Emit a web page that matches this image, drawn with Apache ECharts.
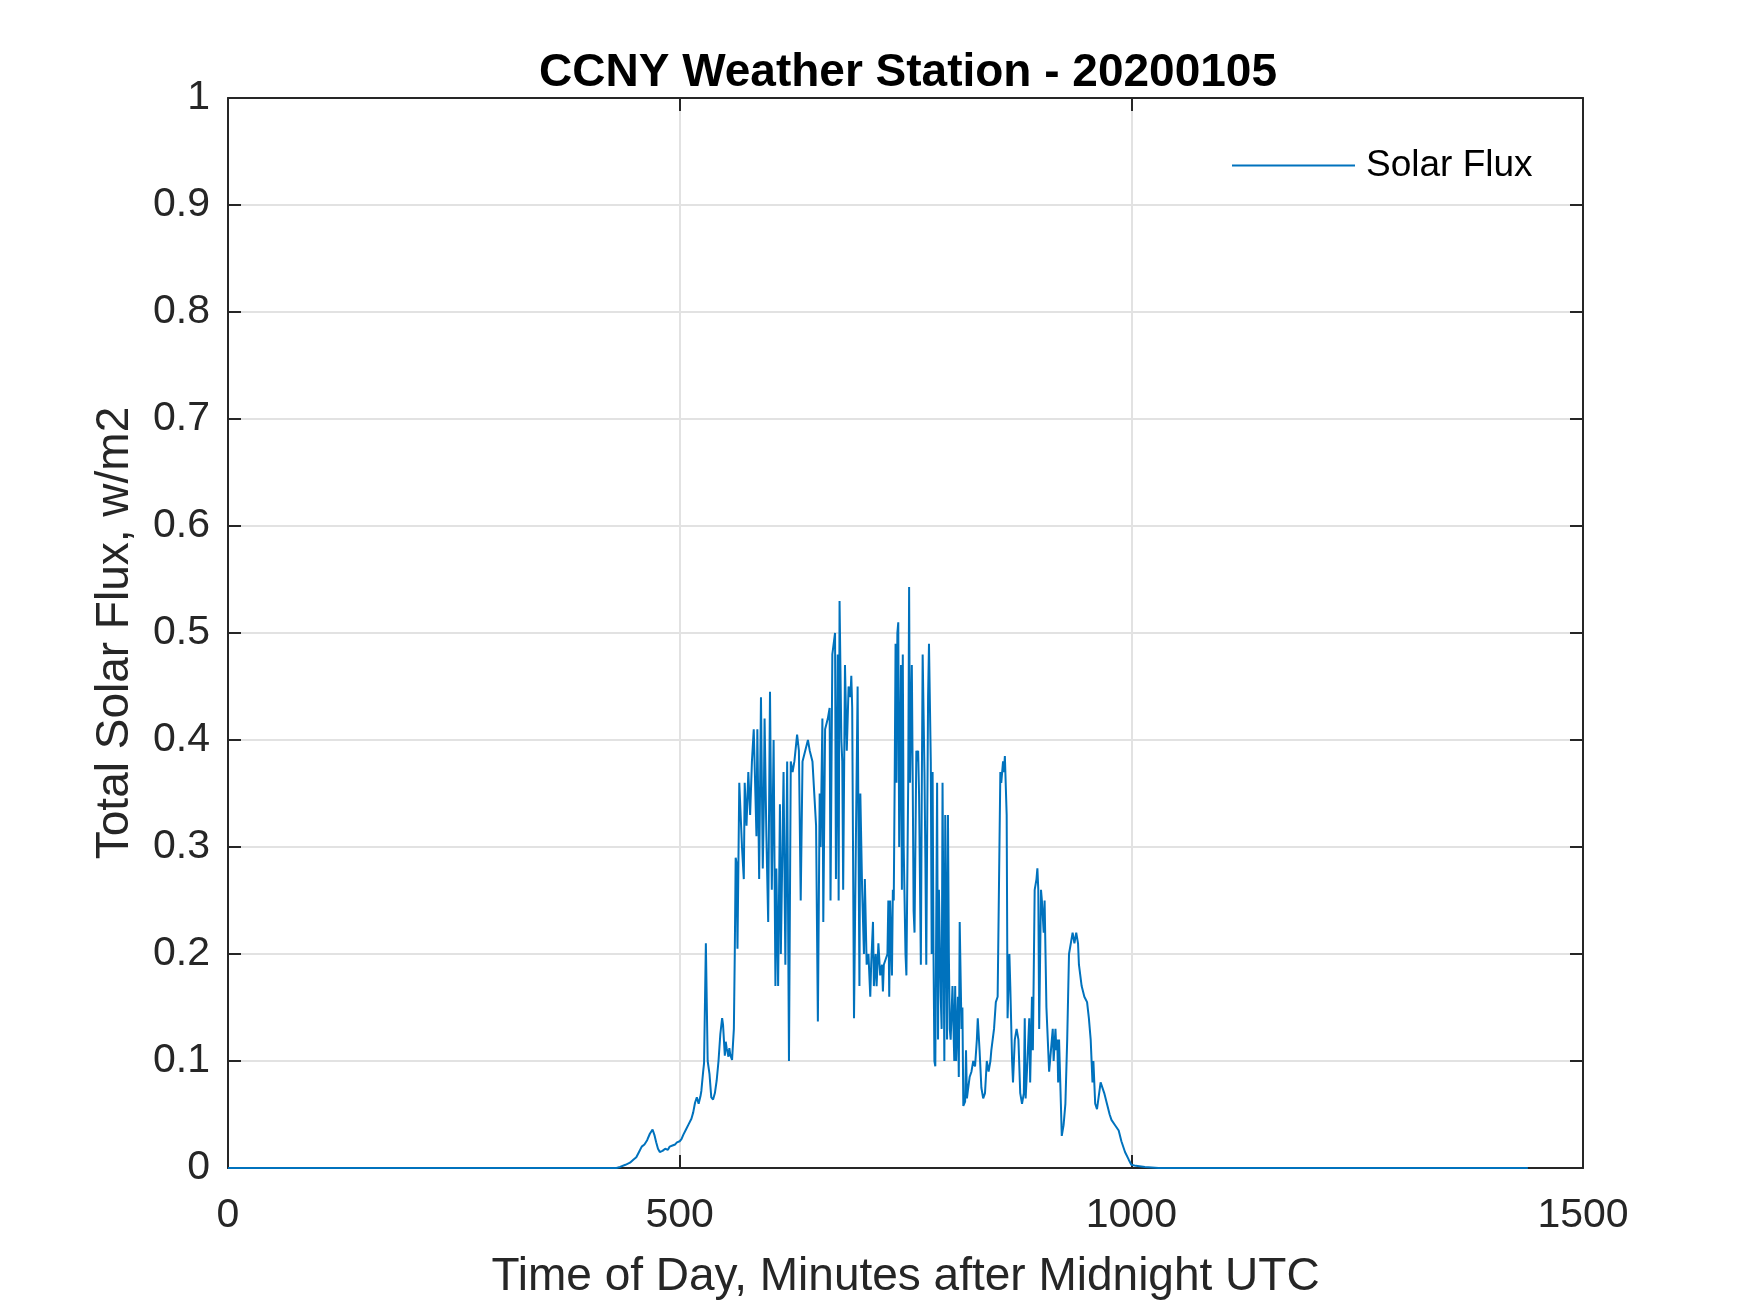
<!DOCTYPE html>
<html>
<head>
<meta charset="utf-8">
<script src="https://cdn.jsdelivr.net/npm/echarts@6/dist/echarts.min.js"></script>
<style>
html,body{margin:0;padding:0;background:#fff;}
#chart{width:1750px;height:1313px;}
</style>
</head>
<body>
<div id="chart"></div>
<script>
const titleText = 'CCNY Weather Station - 20200105';
const seriesName = 'Solar Flux';
const xLabel = 'Time of Day, Minutes after Midnight UTC';
const yLabel = 'Total Solar Flux, w/m2';
const xTicks = [0, 500, 1000, 1500];
const yTicks = [0, 0.1, 0.2, 0.3, 0.4, 0.5, 0.6, 0.7, 0.8, 0.9, 1];

const minutes = [
0,430,434,440,445,449,452,455,458,461,464,467,470,472,474,476,478,481,484,487,489,492,495,497,500,
502,504,507,510,513,515,517,519,521,523,524,526,527,529,531,533,535,537,539,541,543,545,547,548,550,
551,552,554,555,556,558,560,561,562,563,564,566,568,569,571,572,574,576,578,580,582,585,586,588,590,
592,593,594,596,598,600,602,604,606,607,609,611,612,615,617,619,621,623,625,627,630,632,634,636,639,
642,644,647,649,651,653,655,656,658,659,661,664,666,667,669,670,672,673,675,676,677,679,680,681,683,
685,687,689,690,691,693,695,697,699,700,702,704,705,707,709,711,712,714,715,717,718,720,722,724,725,
726,728,730,731,732,733,735,736,737,738,739,740,741,742,743,745,746,747,748,750,751,753,754,755,757,
758,759,760,762,763,764,765,767,768,769,771,772,773,775,776,778,779,780,781,782,783,785,786,787,789,
790,791,793,794,796,797,798,799,800,802,804,805,806,808,809,810,812,813,814,816,817,818,819,821,823,
825,827,829,830,832,834,836,838,840,842,844,845,848,850,852,854,855,856,858,859,860,862,863,865,866,
868,869,871,873,875,877,879,881,882,883,885,887,888,890,891,893,895,896,897,898,900,901,903,904,905,
906,907,909,911,913,914,916,917,918,919,920,922,923,925,927,929,930,931,933,935,937,939,941,942,945,
948,951,953,955,957,958,960,962,964,966,968,970,973,976,978,982,986,989,993,997,1000,1005,1015,1030,1439
];
const flux = [
0,0,0.001,0.003,0.005,0.008,0.01,0.015,0.02,0.022,0.026,0.032,0.036,0.031,0.024,0.018,0.015,0.016,0.018,0.017,0.02,0.021,0.022,0.024,0.025,
0.027,0.031,0.036,0.041,0.046,0.052,0.061,0.066,0.06,0.067,0.072,0.09,0.098,0.21,0.1,0.088,0.066,0.064,0.07,0.082,0.1,0.125,0.14,0.134,0.105,
0.118,0.112,0.104,0.112,0.106,0.101,0.13,0.2,0.29,0.285,0.205,0.36,0.36,0.3,0.27,0.36,0.32,0.37,0.33,0.38,0.41,0.31,0.41,0.27,0.44,
0.28,0.33,0.42,0.31,0.23,0.445,0.26,0.4,0.17,0.28,0.17,0.34,0.2,0.37,0.19,0.38,0.1,0.38,0.37,0.38,0.405,0.39,0.25,0.38,0.39,
0.4,0.39,0.38,0.38,0.32,0.137,0.35,0.3,0.42,0.23,0.41,0.42,0.43,0.25,0.48,0.48,0.5,0.27,0.48,0.25,0.53,0.4,0.38,0.26,0.47,
0.39,0.45,0.44,0.46,0.43,0.14,0.3,0.45,0.17,0.35,0.26,0.2,0.27,0.19,0.2,0.16,0.19,0.23,0.17,0.2,0.17,0.21,0.18,0.19,0.165,
0.19,0.19,0.2,0.25,0.16,0.25,0.18,0.26,0.25,0.36,0.49,0.36,0.5,0.51,0.3,0.47,0.26,0.48,0.3,0.2,0.18,0.36,0.543,0.36,0.47,
0.36,0.24,0.22,0.39,0.38,0.39,0.35,0.19,0.35,0.48,0.37,0.29,0.19,0.44,0.49,0.38,0.2,0.37,0.2,0.1,0.095,0.36,0.12,0.26,0.16,
0.13,0.36,0.1,0.33,0.12,0.33,0.2,0.13,0.12,0.17,0.1,0.17,0.1,0.16,0.085,0.23,0.13,0.15,0.058,0.062,0.11,0.065,0.072,0.085,0.09,
0.1,0.095,0.12,0.14,0.11,0.075,0.065,0.07,0.1,0.09,0.1,0.11,0.13,0.155,0.16,0.3,0.37,0.36,0.38,0.37,0.385,0.33,0.14,0.2,0.17,
0.1,0.08,0.12,0.13,0.12,0.07,0.06,0.07,0.14,0.065,0.1,0.14,0.08,0.16,0.11,0.26,0.27,0.28,0.26,0.13,0.26,0.25,0.22,0.25,0.2,
0.15,0.13,0.09,0.11,0.13,0.1,0.13,0.11,0.12,0.08,0.12,0.06,0.03,0.04,0.06,0.12,0.16,0.2,0.21,0.22,0.21,0.22,0.21,0.19,0.17,
0.16,0.155,0.14,0.12,0.08,0.1,0.06,0.055,0.055,0.08,0.08,0.07,0.06,0.05,0.045,0.04,0.035,0.025,0.015,0.008,0.003,0.002,0.001,0,0
];

const points = minutes.map((m, i) => [m, flux[i]]);

const FONT = 'Liberation Sans, Arial, Helvetica, sans-serif';
const AX = '#262626';
const GRIDC = '#e2e2e2';
const xMin = xTicks[0], xMax = xTicks[xTicks.length - 1], xStep = xTicks[1] - xTicks[0];
const yMin = yTicks[0], yMax = yTicks[yTicks.length - 1], yStep = 0.1;

const chart = echarts.init(document.getElementById('chart'), null, {renderer: 'canvas'});
chart.setOption({
  animation: false,
  backgroundColor: '#ffffff',
  title: {
    text: titleText,
    left: 903, top: 45, textAlign: 'center',
    textStyle: {fontFamily: FONT, fontSize: 46, fontWeight: 'bold', color: '#000'}
  },
  legend: {
    data: [seriesName],
    left: 1227, top: 142,
    itemWidth: 123, itemHeight: 2, itemGap: 10,
    icon: 'rect',
    textStyle: {fontFamily: FONT, fontSize: 37, color: '#000', padding: [0, 0, 0, 6]}
  },
  grid: {left: 228, right: 167, top: 98, bottom: 145, containLabel: false},
  xAxis: [{
    type: 'value', min: xMin, max: xMax, interval: xStep,
    name: xLabel, nameLocation: 'middle', nameGap: 86,
    nameTextStyle: {fontFamily: FONT, fontSize: 46, color: AX},
    axisLine: {show: true, onZero: false, lineStyle: {color: AX, width: 2}},
    axisTick: {show: true, inside: true, length: 13, lineStyle: {color: AX, width: 2}},
    axisLabel: {fontFamily: FONT, fontSize: 41, color: AX, margin: 27,
      formatter: v => String(v)},
    splitLine: {show: true, lineStyle: {color: GRIDC, width: 2}}
  }, {
    type: 'value', position: 'top', min: xMin, max: xMax, interval: xStep,
    axisLine: {show: true, onZero: false, lineStyle: {color: AX, width: 2}},
    axisTick: {show: true, inside: true, length: 13, lineStyle: {color: AX, width: 2}},
    axisLabel: {show: false}, splitLine: {show: false}
  }],
  yAxis: [{
    type: 'value', min: yMin, max: yMax, interval: yStep,
    name: yLabel, nameLocation: 'middle', nameGap: 90,
    nameTextStyle: {fontFamily: FONT, fontSize: 46, color: AX},
    axisLine: {show: true, onZero: false, lineStyle: {color: AX, width: 2}},
    axisTick: {show: true, inside: true, length: 13, lineStyle: {color: AX, width: 2}},
    axisLabel: {fontFamily: FONT, fontSize: 41, color: AX, margin: 18,
      formatter: v => String(Math.round(v * 10) / 10)},
    splitLine: {show: true, lineStyle: {color: GRIDC, width: 2}}
  }, {
    type: 'value', position: 'right', min: yMin, max: yMax, interval: yStep,
    axisLine: {show: true, onZero: false, lineStyle: {color: AX, width: 2}},
    axisTick: {show: true, inside: true, length: 13, lineStyle: {color: AX, width: 2}},
    axisLabel: {show: false}, splitLine: {show: false}
  }],
  series: [{
    name: seriesName,
    type: 'line',
    data: points,
    xAxisIndex: 0, yAxisIndex: 0,
    symbol: 'none', showSymbol: false,
    lineStyle: {color: '#0072BD', width: 2},
    itemStyle: {color: '#0072BD'},
    z: 3
  }]
});
</script>
</body>
</html>
